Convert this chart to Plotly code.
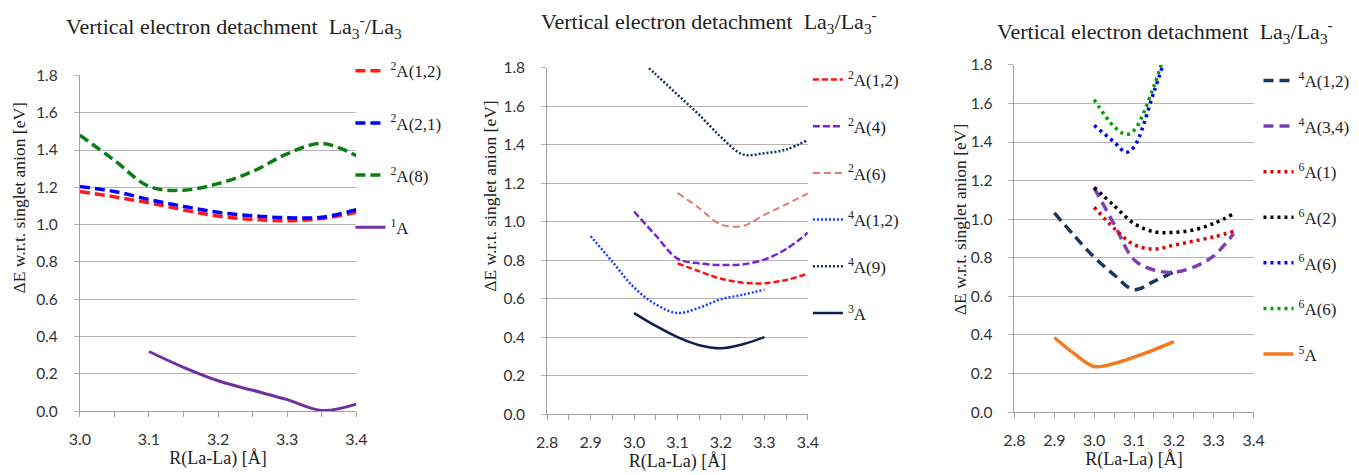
import plotly.graph_objects as go

# ---------------- data ----------------
# Panel 1: La3- / La3
p1_x_full = [3.0, 3.05, 3.1, 3.15, 3.2, 3.25, 3.3, 3.35, 3.4]
p1_2A12 = [1.178, 1.149, 1.117, 1.079, 1.046, 1.028, 1.021, 1.033, 1.066]
p1_2A21 = [1.204, 1.178, 1.135, 1.098, 1.066, 1.048, 1.037, 1.040, 1.080]
p1_2A8 = [1.48, 1.345, 1.205, 1.185, 1.22, 1.285, 1.38, 1.435, 1.37]
p1_x_1A = [3.1, 3.15, 3.2, 3.25, 3.3, 3.35, 3.4]
p1_1A = [0.32, 0.235, 0.163, 0.112, 0.062, 0.004, 0.038]

# Panel 2: La3 / La3-
p2_x_31 = [3.1, 3.15, 3.2, 3.25, 3.3, 3.35, 3.4]
p2_x_30 = [3.0, 3.05, 3.1, 3.15, 3.2, 3.25, 3.3, 3.35, 3.4]
p2_x_29 = [2.9, 2.95, 3.0, 3.05, 3.1, 3.15, 3.2, 3.25, 3.3]
p2_x_3A = [3.0, 3.05, 3.1, 3.15, 3.2, 3.25, 3.3]
p2_2A12 = [0.783, 0.742, 0.703, 0.683, 0.680, 0.697, 0.730]
p2_2A4 = [1.053, 0.928, 0.808, 0.783, 0.775, 0.778, 0.803, 0.858, 0.942]
p2_2A6 = [1.15, 1.07, 0.985, 0.978, 1.035, 1.09, 1.147]
p2_4A12 = [0.925, 0.792, 0.658, 0.570, 0.525, 0.553, 0.597, 0.620, 0.647]
p2_4A9 = [1.87, 1.765, 1.66, 1.555, 1.44, 1.35, 1.356, 1.375, 1.425]
p2_3A = [0.525, 0.458, 0.400, 0.358, 0.342, 0.363, 0.400]

# Panel 3: La3 / La3-
p3_x_29 = [2.9, 2.95, 3.0, 3.05, 3.1, 3.15, 3.2]
p3_x_30 = [3.0, 3.05, 3.1, 3.15, 3.2, 3.25, 3.3, 3.35]
p3_x_6A6 = [3.0, 3.05, 3.08, 3.1, 3.15, 3.2]
p3_4A12 = [1.033, 0.915, 0.803, 0.712, 0.635, 0.678, 0.728]
p3_4A34 = [1.162, 0.975, 0.790, 0.737, 0.725, 0.752, 0.810, 0.925]
p3_6A1 = [1.062, 0.953, 0.868, 0.845, 0.865, 0.887, 0.908, 0.937]
p3_6A2 = [1.165, 1.070, 0.978, 0.935, 0.932, 0.945, 0.978, 1.028]
p3_6A6_blue = [1.486, 1.40, 1.347, 1.375, 1.66, 1.98]
p3_6A6_green = [1.62, 1.48, 1.44, 1.46, 1.69, 2.02]
p3_5A = [0.387, 0.303, 0.237, 0.252, 0.285, 0.323, 0.365]

y_ticks = [0.0, 0.2, 0.4, 0.6, 0.8, 1.0, 1.2, 1.4, 1.6, 1.8]

W, H = 1359, 475
SERIF = "Liberation Serif"
SANS = "Lato"

fig = go.Figure()


def add(x, y, name, color, width, dash, ax, leg, group):
    fig.add_trace(go.Scatter(
        x=x, y=y, name=name, mode="lines",
        line=dict(color=color, width=width, dash=dash, shape="spline", smoothing=1.0),
        xaxis="x" + ax, yaxis="y" + ax, legend=leg, legendgroup=group,
        hoverinfo="skip"))


# panel 1
add(p1_x_full, p1_2A12, "<sup>2</sup>A(1,2)", "#ff1a1a", 3.5, "10px,5px", "", "legend", "a1")
add(p1_x_full, p1_2A21, "<sup>2</sup>A(2,1)", "#0000ff", 3.5, "10px,5px", "", "legend", "a2")
add(p1_x_full, p1_2A8, "<sup>2</sup>A(8)", "#0a7d16", 3.5, "10px,5px", "", "legend", "a3")
add(p1_x_1A, p1_1A, "<sup>1</sup>A", "#7030a0", 3, "solid", "", "legend", "a4")

# panel 2
add(p2_x_31, p2_2A12, "<sup>2</sup>A(1,2)", "#ff1010", 2.5, "6px,3px", "2", "legend2", "b1")
add(p2_x_30, p2_2A4, "<sup>2</sup>A(4)", "#7a22d6", 2.5, "7px,3px", "2", "legend2", "b2")
add(p2_x_31, p2_2A6, "<sup>2</sup>A(6)", "#e07a7a", 2.0, "7px,4px", "2", "legend2", "b3")
add(p2_x_29, p2_4A12, "<sup>4</sup>A(1,2)", "#1a3cff", 2.5, "2px,2px", "2", "legend2", "b4")
add(p2_x_30, p2_4A9, "<sup>4</sup>A(9)", "#14305e", 2.5, "2px,2px", "2", "legend2", "b5")
add(p2_x_3A, p2_3A, "<sup>3</sup>A", "#0f2050", 2.5, "solid", "2", "legend2", "b6")

# panel 3
add(p3_x_29, p3_4A12, "<sup>4</sup>A(1,2)", "#17375e", 3.5, "10px,6px", "3", "legend3", "c1")
add(p3_x_30, p3_4A34, "<sup>4</sup>A(3,4)", "#8040b0", 3.5, "10px,6px", "3", "legend3", "c2")
add(p3_x_30, p3_6A1, "<sup>6</sup>A(1)", "#e00000", 3.5, "3px,4px", "3", "legend3", "c3")
add(p3_x_30, p3_6A2, "<sup>6</sup>A(2)", "#000000", 3.5, "3px,4px", "3", "legend3", "c4")
add(p3_x_6A6, p3_6A6_blue, "<sup>6</sup>A(6)", "#0000ff", 3.5, "3px,4px", "3", "legend3", "c5")
add(p3_x_6A6, p3_6A6_green, "<sup>6</sup>A(6)", "#00a000", 3.5, "3px,4px", "3", "legend3", "c6")
add(p3_x_29, p3_5A, "<sup>5</sup>A", "#f47a1f", 3.5, "solid", "3", "legend3", "c7")


def px(v):
    return v / W


def py(v):
    return 1 - v / H


def xaxis(dom, rng, anchor):
    return dict(domain=dom, range=rng, anchor=anchor, showgrid=False, zeroline=False,
                showline=True, linecolor="#a0a0a0", linewidth=1,
                ticks="outside", ticklen=5, tickcolor="#a0a0a0", dtick=0.1, tick0=2.8,
                tickformat=".1f", ticklabelstandoff=9,
                minor=dict(dtick=0.05, ticks="outside", ticklen=5, tickcolor="#a0a0a0", showgrid=False),
                tickfont=dict(family=SANS, size=16, color="#333333"),
                title=dict(text="R(La-La) [Å]", font=dict(family=SERIF, size=18, color="#222222"),
                           standoff=4))


def yaxis(dom, anchor):
    return dict(domain=dom, range=[0, 1.8001], anchor=anchor, showgrid=True,
                gridcolor="#b4b4b4", gridwidth=1, zeroline=False,
                showline=True, linecolor="#a0a0a0", linewidth=1,
                ticks="outside", ticklen=5, tickcolor="#b4b4b4",
                tickvals=y_ticks, tickformat=".1f", ticklabelstandoff=13,
                tickfont=dict(family=SANS, size=15.5, color="#333333"))


def legend(x, ytop, gap):
    return dict(x=px(x), y=py(ytop), xanchor="left", yanchor="top",
                font=dict(family=SERIF, size=17, color="#222222"),
                itemwidth=30, tracegroupgap=gap, bgcolor="rgba(0,0,0,0)",
                borderwidth=0, itemclick=False, itemdoubleclick=False)


title_font = dict(family=SERIF, size=22, color="#222222")
ylab_font = dict(family=SERIF, size=17.5, color="#222222")
ylab = "ΔE w.r.t. singlet anion [eV]"

fig.update_layout(
    width=W, height=H,
    margin=dict(l=0, r=0, t=0, b=0),
    paper_bgcolor="white", plot_bgcolor="white",
    xaxis=xaxis([px(70), px(351)], [3.0, 3.4], "y"),
    yaxis=yaxis([py(417), py(68)], "x"),
    xaxis2=xaxis([px(545), px(810)], [2.8, 3.4], "y2"),
    yaxis2=yaxis([py(420), py(60)], "x2"),
    xaxis3=xaxis([px(1020), px(1263)], [2.8, 3.4], "y3"),
    yaxis3=yaxis([py(418), py(57)], "x3"),
    legend=legend(345, 45, 27),
    legend2=legend(810, 54, 21.6),
    legend3=legend(1268, 55, 20.5),
    showlegend=True,
    annotations=[
        dict(text="Vertical electron detachment  La<sub>3</sub><sup>-</sup>/La<sub>3</sub>",
             x=px(227), y=py(17), xref="paper", yref="paper", showarrow=False,
             xanchor="center", yanchor="middle", font=title_font),
        dict(text="Vertical electron detachment  La<sub>3</sub>/La<sub>3</sub><sup>-</sup>",
             x=px(709), y=py(12), xref="paper", yref="paper", showarrow=False,
             xanchor="center", yanchor="middle", font=title_font),
        dict(text="Vertical electron detachment  La<sub>3</sub>/La<sub>3</sub><sup>-</sup>",
             x=px(1173), y=py(22), xref="paper", yref="paper", showarrow=False,
             xanchor="center", yanchor="middle", font=title_font),
        dict(text=ylab, x=px(8), y=py(195), xref="paper", yref="paper", showarrow=False,
             textangle=-90, xanchor="center", yanchor="middle", font=ylab_font),
        dict(text=ylab, x=px(487), y=py(194), xref="paper", yref="paper", showarrow=False,
             textangle=-90, xanchor="center", yanchor="middle", font=ylab_font),
        dict(text=ylab, x=px(964), y=py(218), xref="paper", yref="paper", showarrow=False,
             textangle=-90, xanchor="center", yanchor="middle", font=ylab_font),
    ],
)

fig.write_html("out.html")
